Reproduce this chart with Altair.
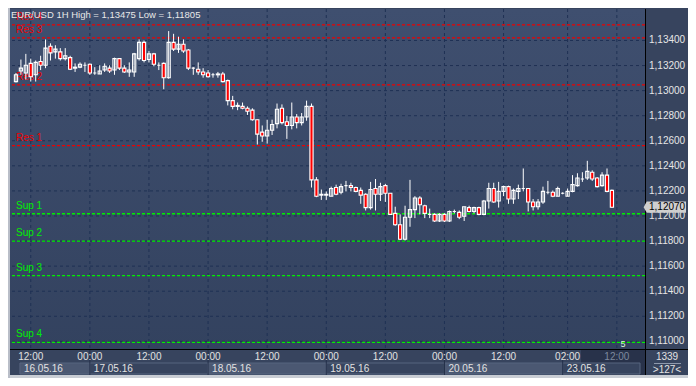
import altair as alt
import pandas as pd

W, H = 635, 340
FONT = "Liberation Sans"

# ---- candle data (EUR/USD 1H) ----
opens = [1.13072, 1.13156, 1.13141, 1.13217, 1.13126, 1.13232, 1.13202, 1.13354, 1.13309, 1.13309,
         1.13255, 1.13263, 1.13179, 1.13187, 1.13202, 1.13210, 1.13141, 1.13133, 1.13164, 1.13179,
         1.13164, 1.13255, 1.13179, 1.13149, 1.13149, 1.13255, 1.13385, 1.13248, 1.13293, 1.13202,
         1.13217, 1.13103, 1.13385, 1.13331, 1.13370, 1.13324, 1.13179, 1.13171, 1.13149, 1.13141,
         1.13126, 1.13126, 1.13133, 1.13080, 1.12920, 1.12882, 1.12874, 1.12859, 1.12844, 1.12768,
         1.12669, 1.12638, 1.12684, 1.12737, 1.12859, 1.12752, 1.12722, 1.12790, 1.12745, 1.12790,
         1.12874, 1.12288, 1.12166, 1.12166, 1.12158, 1.12227, 1.12189, 1.12242, 1.12242, 1.12227,
         1.12204, 1.12173, 1.12067, 1.12219, 1.12173, 1.12242, 1.12181, 1.12021, 1.11930, 1.11815,
         1.11990, 1.12051, 1.12143, 1.12082, 1.12013, 1.12013, 1.11960, 1.12013, 1.11960, 1.12036,
         1.12029, 1.11998, 1.12067, 1.12036, 1.12067, 1.12013, 1.12120, 1.12219, 1.12120, 1.12196,
         1.12234, 1.12135, 1.12196, 1.12219, 1.12219, 1.12112, 1.12074, 1.12112, 1.12189, 1.12189,
         1.12158, 1.12181, 1.12158, 1.12196, 1.12242, 1.12295, 1.12303, 1.12349, 1.12303, 1.12242,
         1.12326, 1.12204]
highs = [1.13141, 1.13248, 1.13293, 1.13255, 1.13240, 1.13278, 1.13408, 1.13377, 1.13362, 1.13339,
         1.13339, 1.13278, 1.13217, 1.13225, 1.13225, 1.13217, 1.13187, 1.13202, 1.13217, 1.13202,
         1.13263, 1.13255, 1.13202, 1.13225, 1.13301, 1.13408, 1.13400, 1.13316, 1.13301, 1.13225,
         1.13225, 1.13475, 1.13453, 1.13430, 1.13408, 1.13331, 1.13187, 1.13225, 1.13179, 1.13164,
         1.13141, 1.13149, 1.13149, 1.13088, 1.12958, 1.12905, 1.12905, 1.12874, 1.12859, 1.12768,
         1.12722, 1.12768, 1.12768, 1.12897, 1.12890, 1.12798, 1.12905, 1.12813, 1.12821, 1.12920,
         1.12897, 1.12310, 1.12211, 1.12196, 1.12234, 1.12250, 1.12257, 1.12280, 1.12265, 1.12234,
         1.12227, 1.12181, 1.12272, 1.12295, 1.12265, 1.12257, 1.12181, 1.12074, 1.12013, 1.12082,
         1.12288, 1.12158, 1.12158, 1.12090, 1.12059, 1.12021, 1.12021, 1.12021, 1.12044, 1.12051,
         1.12044, 1.12074, 1.12082, 1.12074, 1.12074, 1.12128, 1.12265, 1.12265, 1.12272, 1.12242,
         1.12242, 1.12219, 1.12250, 1.12379, 1.12219, 1.12135, 1.12135, 1.12234, 1.12280, 1.12204,
         1.12234, 1.12189, 1.12219, 1.12326, 1.12341, 1.12349, 1.12440, 1.12364, 1.12310, 1.12349,
         1.12379, 1.12211]
lows = [1.13065, 1.13126, 1.13088, 1.13072, 1.13072, 1.13164, 1.13179, 1.13240, 1.13255, 1.13240,
        1.13240, 1.13164, 1.13149, 1.13179, 1.13149, 1.13126, 1.13126, 1.13133, 1.13149, 1.13141,
        1.13126, 1.13164, 1.13141, 1.13110, 1.13110, 1.13240, 1.13225, 1.13225, 1.13194, 1.13164,
        1.13011, 1.13095, 1.13316, 1.13301, 1.13301, 1.13164, 1.13126, 1.13126, 1.13103, 1.13103,
        1.13103, 1.13103, 1.13065, 1.12882, 1.12851, 1.12844, 1.12851, 1.12806, 1.12760, 1.12570,
        1.12592, 1.12577, 1.12646, 1.12699, 1.12730, 1.12615, 1.12691, 1.12699, 1.12722, 1.12760,
        1.12227, 1.12150, 1.12128, 1.12128, 1.12158, 1.12166, 1.12173, 1.12196, 1.12196, 1.12189,
        1.12097, 1.12044, 1.12051, 1.12044, 1.12120, 1.12112, 1.12013, 1.11922, 1.11808, 1.11805,
        1.11914, 1.11983, 1.12013, 1.11983, 1.11983, 1.11952, 1.11952, 1.11952, 1.11952, 1.12021,
        1.11975, 1.11960, 1.12029, 1.12021, 1.12006, 1.12006, 1.12059, 1.12105, 1.12067, 1.12158,
        1.12097, 1.12097, 1.12135, 1.12196, 1.12036, 1.12044, 1.12051, 1.12097, 1.12173, 1.12150,
        1.12158, 1.12173, 1.12158, 1.12189, 1.12234, 1.12272, 1.12288, 1.12280, 1.12227, 1.12234,
        1.12189, 1.12067]
closes = [1.13126, 1.13179, 1.13202, 1.13110, 1.13225, 1.13202, 1.13339, 1.13301, 1.13331, 1.13255,
          1.13278, 1.13171, 1.13187, 1.13210, 1.13202, 1.13141, 1.13141, 1.13156, 1.13194, 1.13156,
          1.13255, 1.13179, 1.13149, 1.13164, 1.13293, 1.13385, 1.13240, 1.13293, 1.13210, 1.13202,
          1.13103, 1.13385, 1.13331, 1.13370, 1.13316, 1.13179, 1.13179, 1.13149, 1.13126, 1.13110,
          1.13126, 1.13133, 1.13072, 1.12920, 1.12874, 1.12874, 1.12859, 1.12836, 1.12768, 1.12653,
          1.12638, 1.12684, 1.12730, 1.12851, 1.12745, 1.12722, 1.12790, 1.12745, 1.12790, 1.12874,
          1.12288, 1.12158, 1.12173, 1.12173, 1.12219, 1.12173, 1.12234, 1.12242, 1.12227, 1.12196,
          1.12166, 1.12067, 1.12211, 1.12173, 1.12234, 1.12181, 1.12013, 1.11930, 1.11815, 1.11990,
          1.12051, 1.12143, 1.12090, 1.12021, 1.12013, 1.11960, 1.12013, 1.11960, 1.12036, 1.12036,
          1.11990, 1.12074, 1.12036, 1.12067, 1.12013, 1.12120, 1.12219, 1.12112, 1.12196, 1.12234,
          1.12135, 1.12204, 1.12219, 1.12219, 1.12112, 1.12074, 1.12112, 1.12196, 1.12189, 1.12158,
          1.12219, 1.12181, 1.12196, 1.12250, 1.12303, 1.12295, 1.12356, 1.12295, 1.12234, 1.12326,
          1.12196, 1.12070]
bar_index = list(range(1, len(opens) + 1))

# ---- support / resistance ----
sr_names = ["Res 4", "Res 3", "Res 2", "Res 1", "Sup 1", "Sup 2", "Sup 3", "Sup 4"]
sr_levels = [1.13525, 1.13420, 1.13045, 1.12562, 1.12018, 1.11800, 1.11525, 1.10992]
sr_colors = ["#ee0000"] * 4 + ["#00f000"] * 4

# ---- axes ----
price_ticks = [1.110, 1.112, 1.114, 1.116, 1.118, 1.120, 1.122, 1.124, 1.126, 1.128, 1.130, 1.132, 1.134]
price_lbl = ["1,11000", "1,11200", "1,11400", "1,11600", "1,11800", "1,12000", "1,12200",
             "1,12400", "1,12600", "1,12800", "1,13000", "1,13200", "1,13400"]
time_idx = [4, 16, 28, 40, 52, 64, 76, 88, 100, 113, 123]
time_lbl = ["12:00", "00:00", "12:00", "00:00", "12:00", "00:00", "12:00", "00:00", "12:00", "02:00", "12:00"]
time_col = ["#e2e2e2"] * 10 + ["#7d899e"]
date_lbl = ["16.05.16", "17.05.16", "18.05.16", "19.05.16", "20.05.16", "23.05.16"]
date_start = [1.8, 16, 40, 64, 88, 112]
date_end = [16, 40, 64, 88, 112, 127.7]
date_fill = ["#4b5872", "#37445e", "#4b5872", "#37445e", "#4b5872", "#37445e"]
date_sep = [16, 40, 64, 88, 112]

title_text = "EUR/USD 1H High = 1,13475 Low = 1,11805"
last_price = 1.12070
last_lbl = "1,12070"

df = pd.DataFrame({"i": bar_index, "o": opens, "h": highs, "l": lows, "c": closes})
xs = alt.Scale(domain=[0.8, 127.7], nice=False, zero=False)
ys = alt.Scale(domain=[1.10939, 1.13651], nice=False, zero=False)
one = pd.DataFrame({"a": [0]})

bg = alt.Chart(one).mark_rect(
    color=alt.LinearGradient(gradient="linear",
                             stops=[alt.GradientStop(color="#3f4f6f", offset=0),
                                    alt.GradientStop(color="#33425f", offset=1)],
                             x1=0, x2=0, y1=0, y2=1)
).encode(x=alt.value(0), x2=alt.value(W), y=alt.value(0), y2=alt.value(H))

p_df = pd.DataFrame({"p": price_ticks, "lbl": price_lbl})
hgrid = alt.Chart(p_df).mark_rule(color="#1f3154", strokeDash=[3, 3], strokeWidth=1).encode(
    y=alt.Y("p:Q", scale=ys, axis=None))
ylabels = alt.Chart(p_df).mark_text(align="left", baseline="middle", font=FONT, fontSize=10,
                                    color="#e6e6e6").encode(
    x=alt.value(W + 4), y=alt.Y("p:Q", scale=ys, axis=None), text="lbl:N")

vgrid = alt.Chart(pd.DataFrame({"t": time_idx})).mark_rule(
    color="#1f3154", strokeDash=[3, 3], strokeWidth=1
).encode(x=alt.X("t:Q", scale=xs, axis=None))

sr_df = pd.DataFrame({"n": sr_names, "v": sr_levels, "col": sr_colors})
sr_lines = alt.Chart(sr_df).mark_rule(strokeDash=[3, 2], strokeWidth=1.3).encode(
    y=alt.Y("v:Q", scale=ys, axis=None), color=alt.Color("col:N", scale=None))
sr_text = alt.Chart(sr_df).mark_text(align="left", baseline="middle", dy=-8, font=FONT, fontSize=10).encode(
    x=alt.value(6), y=alt.Y("v:Q", scale=ys, axis=None), text="n:N", color=alt.Color("col:N", scale=None))

wicks = alt.Chart(df).mark_rule(color="white", strokeWidth=1, clip=True).encode(
    x=alt.X("i:Q", scale=xs, axis=None), y=alt.Y("l:Q", scale=ys, axis=None), y2="h:Q")
bodies = alt.Chart(df).mark_bar(size=3.2, stroke="white", strokeWidth=1.1, fill="#ff0000", clip=True).encode(
    x=alt.X("i:Q", scale=xs, axis=None), y=alt.Y("o:Q", scale=ys, axis=None), y2="c:Q",
    fillOpacity=alt.condition("datum.c > datum.o", alt.value(0), alt.value(1)))

# bottom axis area
d_df = pd.DataFrame({"s": date_start, "e": date_end, "lbl": date_lbl, "f": date_fill})
date_boxes = alt.Chart(d_df).mark_rect(stroke="#57647f", strokeWidth=1).encode(
    x=alt.X("s:Q", scale=xs, axis=None), x2="e:Q", y=alt.value(H + 14), y2=alt.value(H + 25),
    fill=alt.Color("f:N", scale=None))
future = alt.Chart(one).mark_rect(color="#28324a").encode(
    x=alt.value(571), x2=alt.value(W), y=alt.value(H), y2=alt.value(H + 26))
seps = alt.Chart(pd.DataFrame({"s": date_sep})).mark_rule(color="#24304a", strokeWidth=1).encode(
    x=alt.X("s:Q", scale=xs, axis=None), y=alt.value(H), y2=alt.value(H + 26))
date_text = alt.Chart(d_df).mark_text(align="left", baseline="middle", dx=4, font=FONT, fontSize=10,
                                      color="#e2e2e2").encode(
    x=alt.X("s:Q", scale=xs, axis=None), y=alt.value(H + 20), text="lbl:N")
t_df = pd.DataFrame({"t": time_idx, "lbl": time_lbl, "col": time_col})
time_text = alt.Chart(t_df).mark_text(align="center", baseline="middle", font=FONT, fontSize=10).encode(
    x=alt.X("t:Q", scale=xs, axis=None), y=alt.value(H + 8), text="lbl:N",
    color=alt.Color("col:N", scale=None))

hline = alt.Chart(one).mark_rule(color="#000000", strokeWidth=1).encode(
    x=alt.value(-2), x2=alt.value(W + 43), y=alt.value(H + 0.5))
vline = alt.Chart(one).mark_rule(color="#000000", strokeWidth=1).encode(
    x=alt.value(W + 0.5), y=alt.value(0), y2=alt.value(H + 26))
bottom_strip = alt.Chart(one).mark_rect(color="#c9cdd4").encode(
    x=alt.value(-2), x2=alt.value(W + 43), y=alt.value(H + 26), y2=alt.value(H + 29))
left_strip = alt.Chart(one).mark_rect(color="#b9bec8").encode(
    x=alt.value(-2), x2=alt.value(0), y=alt.value(-1), y2=alt.value(H + 29))

corner1 = alt.Chart(one).mark_text(text="1339", font=FONT, fontSize=10, color="#e2e2e2",
                                   align="center", baseline="middle").encode(
    x=alt.value(W + 22), y=alt.value(H + 8))
corner_sep = alt.Chart(one).mark_rule(color="#8e99ad", strokeWidth=1).encode(
    x=alt.value(W + 9), x2=alt.value(W + 36), y=alt.value(H + 14.5))
corner2 = alt.Chart(one).mark_text(text=">127<", font=FONT, fontSize=10, color="#e2e2e2",
                                   align="center", baseline="middle").encode(
    x=alt.value(W + 22), y=alt.value(H + 21))

five = alt.Chart(one).mark_text(text="5", font=FONT, fontSize=9, color="#d8f5d8",
                                align="center", baseline="middle").encode(
    x=alt.value(613), y=alt.value(H - 5))

title = alt.Chart(one).mark_text(text=title_text, font=FONT, fontSize=9.5, color="#e8e8e8",
                                 align="left", baseline="middle").encode(
    x=alt.value(1), y=alt.value(6))

lp = pd.DataFrame({"p": [last_price], "lbl": [last_lbl]})
tag = alt.Chart(lp).mark_point(
    shape="M-1.12,0 L-0.96,-0.28 L1,-0.28 L1,0.28 L-0.96,0.28 Z",
    filled=True, color="#cfcfcf", size=1600, opacity=1, strokeWidth=0
).encode(x=alt.value(W + 21), y=alt.Y("p:Q", scale=ys, axis=None))
tag_text = alt.Chart(lp).mark_text(font=FONT, fontSize=10, color="#000000",
                                   align="left", baseline="middle").encode(
    x=alt.value(W + 4), y=alt.Y("p:Q", scale=ys, axis=None), text="lbl:N")

chart = alt.layer(
    bg, hgrid, vgrid, sr_lines, sr_text, wicks, bodies,
    future, date_boxes, seps, date_text, time_text,
    hline, vline, bottom_strip, left_strip, corner1, corner_sep, corner2,
    ylabels, five, title, tag, tag_text
).properties(
    width=W, height=H,
    autosize=alt.AutoSizeParams(type="none"),
    padding={"left": 2, "top": 1, "right": 43, "bottom": 29},
    background="#37445e"
).configure_view(strokeWidth=0)

chart.save("out.html", embed_options={"renderer": "svg", "actions": False})
